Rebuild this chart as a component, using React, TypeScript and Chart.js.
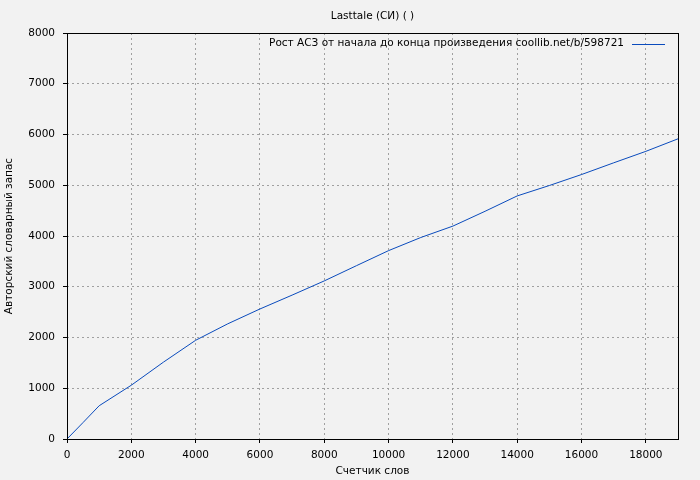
import React, { useEffect, useRef } from "react";
import { Chart, registerables } from "chart.js";

Chart.register(...registerables);

const chartTitle = "Lasttale (СИ) ( )";
const seriesLabel = "Рост АСЗ от начала до конца произведения coollib.net/b/598721";
const xAxisTitle = "Счетчик слов";
const yAxisTitle = "Авторский словарный запас";

const wordCounts = [0, 500, 1000, 2000, 3000, 4000, 5000, 6000, 7000, 8000, 9000, 10000, 11000, 12000, 13000, 14000, 15000, 16000, 17000, 18000, 19000];
const vocabulary = [0, 325, 655, 1060, 1515, 1945, 2270, 2562, 2835, 3115, 3415, 3712, 3970, 4195, 4487, 4790, 4995, 5211, 5442, 5668, 5915];
const xTicks = [0, 2000, 4000, 6000, 8000, 10000, 12000, 14000, 16000, 18000];
const yTicks = [0, 1000, 2000, 3000, 4000, 5000, 6000, 7000, 8000];

const X_MAX = 19000;
const Y_MAX = 8000;
const FONT = "'DejaVu Sans', sans-serif";
const FS = 10.5;
const LINE_COLOR = "#0a4bbd";

export default function App() {
  const ref = useRef<HTMLCanvasElement | null>(null);

  useEffect(() => {
    if (!ref.current) return;
    const frame = {
      id: "frame",
      beforeDraw(chart: any) {
        const c = chart.ctx;
        c.save();
        c.fillStyle = "#f2f2f2";
        c.fillRect(0, 0, chart.width, chart.height);
        c.restore();
      },
      afterDraw(chart: any) {
        const c = chart.ctx;
        const a = chart.chartArea;
        c.save();
        c.strokeStyle = "#000";
        c.lineWidth = 1;
        c.strokeRect(Math.round(a.left) + 0.5, Math.round(a.top) + 0.5, Math.round(a.right - a.left), Math.round(a.bottom - a.top));
        c.fillStyle = "#000";
        c.font = `${FS}px ${FONT}`;
        c.textBaseline = "middle";
        c.textAlign = "center";
        c.fillText(chartTitle, (a.left + a.right) / 2, 16.5);
        c.textAlign = "right";
        const ly = a.top + 10.5;
        c.fillText(seriesLabel, a.right - 54, ly);
        c.strokeStyle = LINE_COLOR;
        c.beginPath();
        c.moveTo(a.right - 46, Math.round(ly) + 0.5);
        c.lineTo(a.right - 13, Math.round(ly) + 0.5);
        c.stroke();
        c.restore();
      },
    };

    const chart = new Chart(ref.current, {
      type: "line",
      data: {
        datasets: [
          {
            label: seriesLabel,
            data: wordCounts.map((x, i) => ({ x, y: vocabulary[i] })),
            borderColor: LINE_COLOR,
            borderWidth: 1,
            pointRadius: 0,
            tension: 0,
            fill: false,
          },
        ],
      },
      options: {
        responsive: false,
        animation: false,
        layout: { padding: { top: 33, right: 22, left: 0, bottom: 0 } },
        plugins: {
          legend: { display: false },
          title: { display: false },
          tooltip: { enabled: false },
        },
        scales: {
          x: {
            type: "linear",
            min: 0,
            max: X_MAX,
            afterBuildTicks(scale: any) {
              scale.ticks = xTicks.map((v) => ({ value: v }));
            },
            afterFit(scale: any) {
              scale.height = 41;
            },
            ticks: {
              color: "#000",
              font: { family: FONT, size: FS },
              padding: 6,
              maxRotation: 0,
              autoSkip: false,
              callback: (v: any) => String(v),
            },
            grid: {
              color: "#a0a0a0",
              lineWidth: 1,
              tickLength: 4,
              tickColor: "#000",
            },
            border: { display: false, dash: [2, 3] },
            title: {
              display: true,
              text: xAxisTitle,
              color: "#000",
              font: { family: FONT, size: FS },
              padding: { top: 2, bottom: 2 },
            },
          },
          y: {
            min: 0,
            max: Y_MAX,
            afterBuildTicks(scale: any) {
              scale.ticks = yTicks.map((v) => ({ value: v }));
            },
            afterFit(scale: any) {
              scale.width = 67;
            },
            ticks: {
              color: "#000",
              font: { family: FONT, size: FS },
              padding: 8,
              autoSkip: false,
              callback: (v: any) => String(v),
            },
            grid: {
              color: "#a0a0a0",
              lineWidth: 1,
              tickLength: 4,
              tickColor: "#000",
            },
            border: { display: false, dash: [2, 3] },
            title: {
              display: true,
              text: yAxisTitle,
              color: "#000",
              font: { family: FONT, size: FS },
              padding: { top: 3, bottom: 2 },
            },
          },
        },
      },
      plugins: [frame],
    } as any);
    return () => chart.destroy();
  }, []);

  return (
    <div style={{ position: "fixed", left: 0, top: 0, width: 700, height: 480 }}>
      <canvas ref={ref} width={700} height={480} style={{ width: 700, height: 480, display: "block" }} />
    </div>
  );
}
